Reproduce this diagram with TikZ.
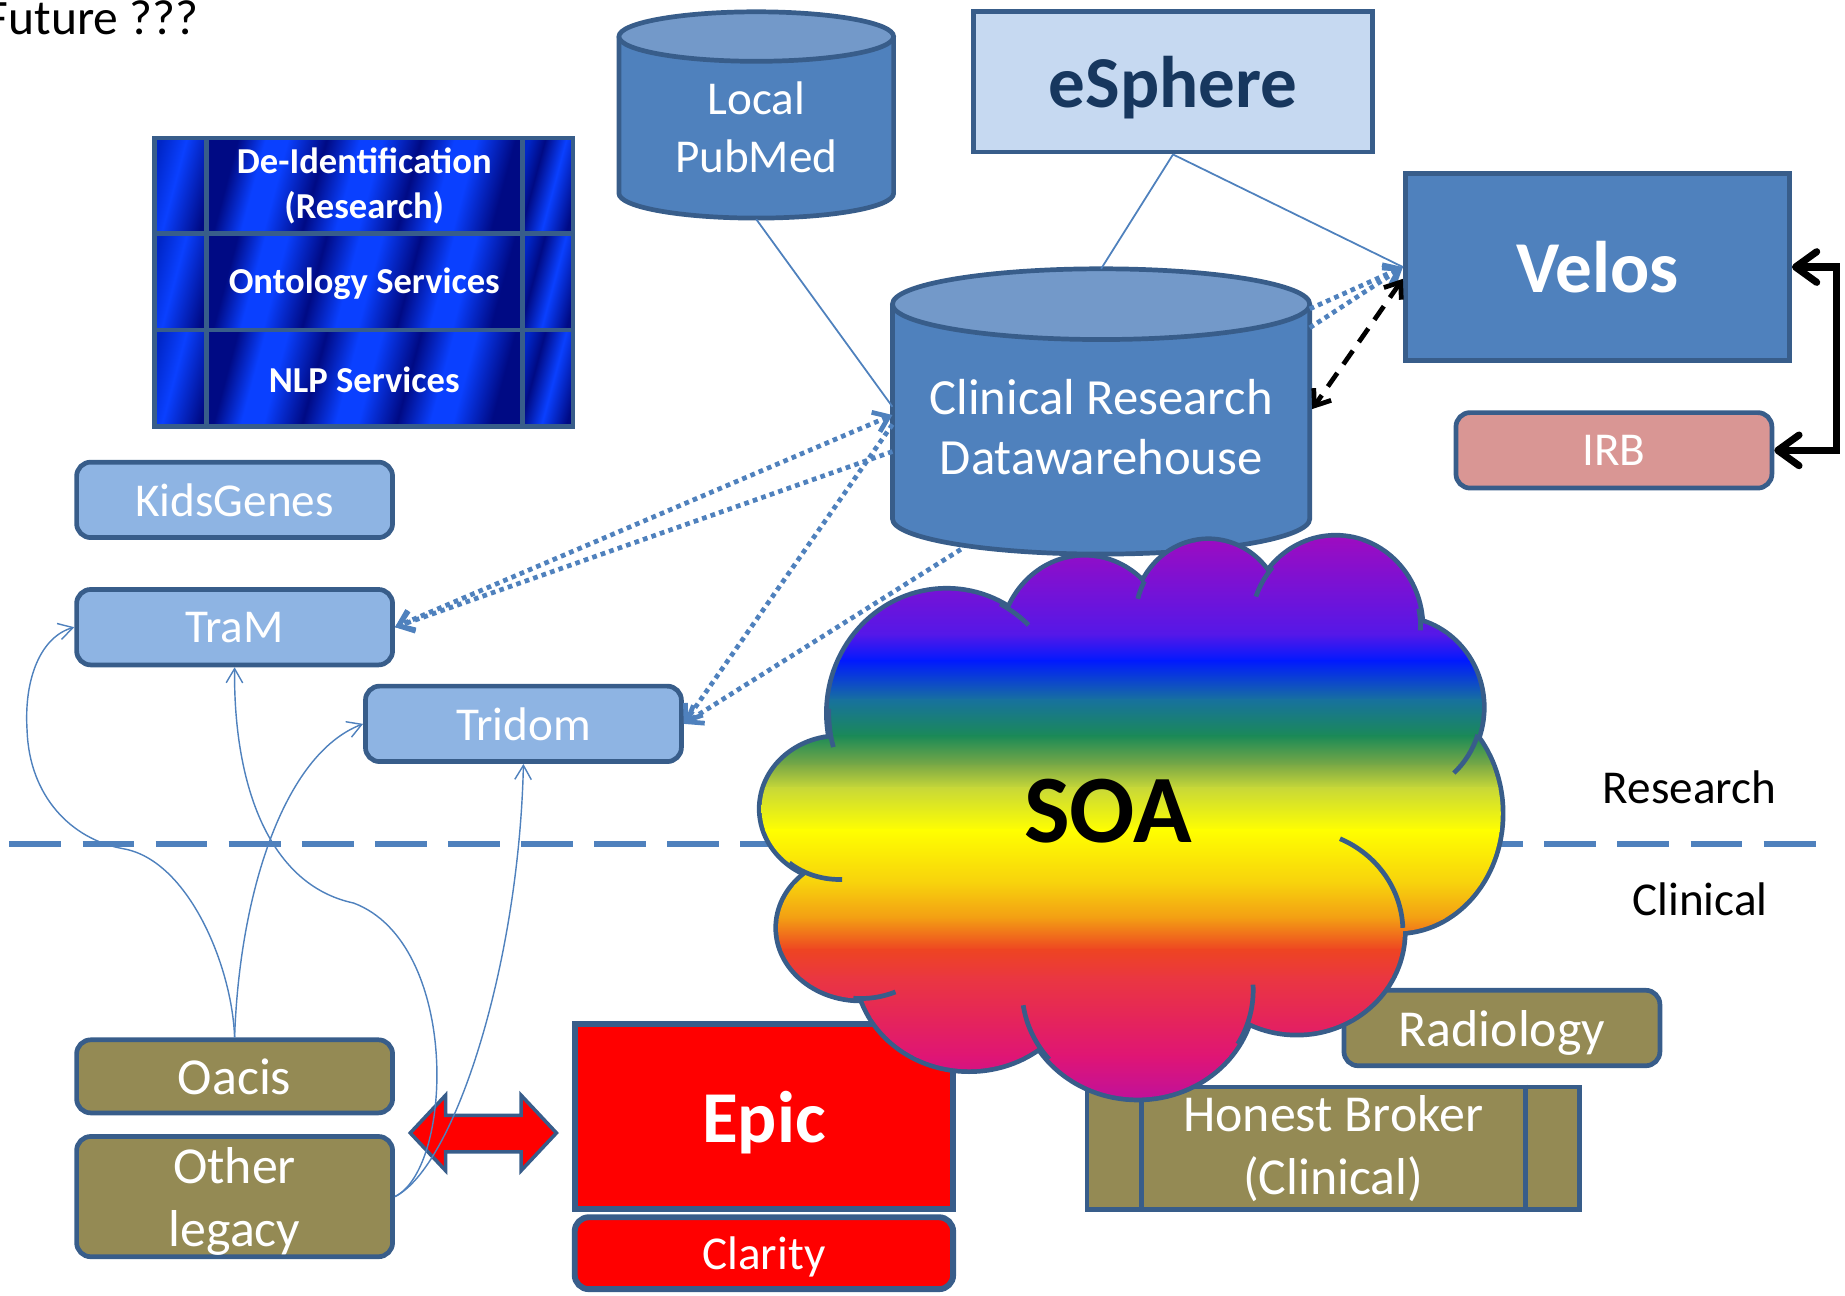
\documentclass[tikz,border=0pt]{standalone}
\usepackage{fontspec}
\setmainfont{Carlito}
\usetikzlibrary{arrows.meta}
\definecolor{acc}{HTML}{4F81BD}
\definecolor{bord}{HTML}{385D8A}
\definecolor{cyltop}{HTML}{7399C9}
\definecolor{lbox}{HTML}{8EB4E3}
\definecolor{esph}{HTML}{C6D9F1}
\definecolor{esphtxt}{HTML}{17375E}
\definecolor{irbc}{HTML}{D99694}
\definecolor{olivec}{HTML}{948A54}
\definecolor{dkb}{HTML}{000A84}
\definecolor{brb}{HTML}{0A40FF}
\definecolor{midb}{HTML}{0026C8}
\definecolor{rA}{HTML}{9B0CC2}
\definecolor{rB}{HTML}{5418E8}
\definecolor{rC}{HTML}{0019FF}
\definecolor{rD}{HTML}{17719E}
\definecolor{rE}{HTML}{1B8A57}
\definecolor{rF}{HTML}{7DAA45}
\definecolor{rG}{HTML}{C8D838}
\definecolor{rH}{HTML}{FFFF00}
\definecolor{rI}{HTML}{F7D00D}
\definecolor{rJ}{HTML}{F39C14}
\definecolor{rK}{HTML}{EE4422}
\definecolor{rL}{HTML}{EA3740}
\definecolor{rM}{HTML}{E5255A}
\definecolor{rN}{HTML}{DF1575}
\definecolor{rO}{HTML}{B00FAE}
\pgfdeclarehorizontalshading{streakmid}{100bp}{color(0bp)=(dkb); color(25bp)=(dkb); color(30bp)=(brb); color(34bp)=(brb); color(41bp)=(dkb); color(47bp)=(brb); color(51bp)=(brb); color(58bp)=(dkb); color(64bp)=(brb); color(68bp)=(brb); color(75bp)=(dkb); color(100bp)=(dkb)}
\pgfdeclarehorizontalshading{streakL}{100bp}{color(0bp)=(midb); color(25bp)=(midb); color(45bp)=(brb); color(75bp)=(dkb); color(100bp)=(dkb)}
\pgfdeclarehorizontalshading{streakR}{100bp}{color(0bp)=(midb); color(25bp)=(midb); color(38bp)=(dkb); color(55bp)=(brb); color(75bp)=(dkb); color(100bp)=(dkb)}
\begin{document}
\begin{tikzpicture}[x=0.5pt,y=-0.5pt,
  bordc/.style={draw=bord, line width=2pt},
  lbl/.style={text=white, align=center, inner sep=0pt},
  f20/.style={font=\fontsize{20pt}{24.4pt}\selectfont},
  f21/.style={font=\fontsize{21.5pt}{25.5pt}\selectfont},
  f22/.style={font=\fontsize{22pt}{26.8pt}\selectfont},
  big/.style={font=\bfseries\fontsize{31pt}{37pt}\selectfont},
  rb/.style={bordc, lbl, rounded corners=6pt, minimum width=134pt, minimum height=32pt, text depth=0pt},
  lightbox/.style={rb, fill=lbox, f20},
  olivebox/.style={rb, fill=olivec, f22},
  thinline/.style={draw=acc, line width=0.75pt},
  thinarr/.style={draw=acc, line width=0.6pt, -{Straight Barb[length=6pt,width=7pt]}},
  dotln/.style={draw=acc, line width=2pt, dash pattern=on 2pt off 1.8pt},
  dtip/.style={-{Straight Barb[length=6pt,width=9pt]}},
  dtips/.style={{Straight Barb[length=6pt,width=9pt]}-{Straight Barb[length=6pt,width=9pt]}},
  cloudln/.style={draw=bord, line width=2pt},
]
\useasboundingbox (0,0) rectangle (1565,1099.3);

% title
\node[anchor=base west, font=\fontsize{21pt}{25pt}\selectfont] (future) at (-19,29) {Future ???};

% divider
\coordinate (divL) at (8,716);
\coordinate (divR) at (1550,716);
\draw[acc, line width=2.5pt, dash pattern=on 22pt off 9pt] (divL) -- (divR);
\node[f20] (research) at (1433,668) {Research};
\node[f20] (clinical) at (1442,763) {Clinical};

% De-identification block
\foreach \xa/\xb/\sh in {131/175/streakL, 175/443/streakmid, 443/486/streakR}
  \foreach \ya/\yb in {117/198, 198/280, 280/362}
    \shade[shading=\sh, shading angle=-15] (\xa,\ya) rectangle (\xb,\yb);
\draw[bordc] (131,117) rectangle (486,362);
\draw[bordc] (175,117) -- (175,362) (443,117) -- (443,362) (131,198) -- (486,198) (131,280) -- (486,280);
\node[lbl, font=\bfseries\fontsize{15.5pt}{19pt}\selectfont] (deid) at (309,158) {De-Identification\\(Research)};
\node[lbl, font=\bfseries\fontsize{15.5pt}{19pt}\selectfont] (onto) at (309,241) {Ontology Services};
\node[lbl, font=\bfseries\fontsize{15.5pt}{19pt}\selectfont] (nlp) at (309,322) {NLP Services};

% Local PubMed cylinder
\draw[bordc, fill=acc] (525,31) -- (525,164) arc[start angle=180, end angle=0, x radius=116.5, y radius=21] -- (758,31);
\draw[bordc, fill=cyltop] (641.5,31) ellipse [x radius=116.5, y radius=21];
\node[lbl, f20] (pubmed) at (641.5,108) {Local\\PubMed};
\coordinate (pmB) at (641.5,186);

% Clinical Research Datawarehouse cylinder
\draw[bordc, fill=acc] (757,258) -- (757,440) arc[start angle=180, end angle=0, x radius=177, y radius=30] -- (1111,258);
\draw[bordc, fill=cyltop] (934,258) ellipse [x radius=177, y radius=30];
\node[lbl, f21] (crdw) at (934,362) {Clinical Research\\Datawarehouse};
\coordinate (crT) at (934,228);
\coordinate (crL0) at (757,345);
\coordinate (crL1) at (757,352);
\coordinate (crL2) at (757,383);
\coordinate (crL3) at (757,360);
\coordinate (crB) at (815,466);
\coordinate (crR1) at (1111,262);
\coordinate (crR2) at (1111,278);
\coordinate (crR3) at (1113,347);

% boxes
\node[bordc, fill=esph, text=esphtxt, big, minimum width=169pt, minimum height=59.5pt, text depth=0pt, inner sep=0pt] (esphere) at (995,69.5) {eSphere};
\node[bordc, lbl, fill=acc, big, minimum width=163pt, minimum height=79.5pt, text depth=0pt] (velos) at (1355,226.5) {Velos};
\node[rb, fill=irbc, f20] (irb) at (1369,382) {IRB};
\node[lightbox] (kids) at (199,424) {KidsGenes};
\node[lightbox] (tram) at (199,532) {TraM};
\node[lightbox] (tridom) at (444,614) {Tridom};
\node[olivebox, minimum height=31pt] (oacis) at (199,913) {Oacis};
\node[olivebox, minimum height=51pt] (other) at (199,1015) {Other\\legacy};
\node[olivebox] (radio) at (1274,872) {Radiology};
\node[bordc, lbl, fill=olivec, f22, minimum width=209pt, minimum height=52pt] (honest) at (1131,974) {Honest Broker\\(Clinical)};
\draw[bordc] ([xshift=24pt]honest.north west) -- ([xshift=24pt]honest.south west)
             ([xshift=-24pt]honest.north east) -- ([xshift=-24pt]honest.south east);
\node[draw=bord, line width=2.5pt, lbl, fill=red, big, minimum width=160.5pt, minimum height=78.5pt, text depth=0pt] (epic) at (648,947) {Epic};
\node[draw=bord, line width=2.5pt, lbl, fill=red, f20, rounded corners=6pt, minimum width=160.5pt, minimum height=30.5pt, text depth=0pt] (clarity) at (648,1063) {Clarity};

% red double arrow
\draw[draw=bord, line width=1.5pt, fill=red] (348,961) -- (378,929) -- (378,946) -- (442,946) -- (442,929) -- (472,961) -- (442,993) -- (442,977) -- (378,977) -- (378,993) -- cycle;

% SOA cloud
\foreach \cx/\cy/\rx/\ry in {712/686/66/60, 803/605/100/104, 920/548/70/75, 1025/525/62/66, 1133/532/72/76, 1185/600/72/75, 1185/690/88/100, 1100/790/90/86, 965/840/98/91, 822/820/95/87, 730/787/70/60}
  \draw[draw=bord, line width=4pt] (\cx,\cy) ellipse [x radius=\rx, y radius=\ry];
\begin{scope}
\clip (712,686) ellipse [x radius=66, y radius=60]
      (803,605) ellipse [x radius=100, y radius=104]
      (920,548) ellipse [x radius=70, y radius=75]
      (1025,525) ellipse [x radius=62, y radius=66]
      (1133,532) ellipse [x radius=72, y radius=76]
      (1185,600) ellipse [x radius=72, y radius=75]
      (1185,690) ellipse [x radius=88, y radius=100]
      (1100,790) ellipse [x radius=90, y radius=86]
      (965,840) ellipse [x radius=98, y radius=91]
      (822,820) ellipse [x radius=95, y radius=87]
      (730,787) ellipse [x radius=70, y radius=60]
      (960,690) ellipse [x radius=240, y radius=170];
\foreach \ya/\ca/\yb/\cb in {440/rA/458/rA, 458/rA/538/rB, 538/rB/560/rC, 560/rC/593/rD, 593/rD/624/rE, 624/rE/649/rF, 649/rF/668/rG, 668/rG/704/rH, 704/rH/750/rI, 750/rI/779/rJ, 779/rJ/805/rK, 805/rK/828/rL, 828/rL/863/rM, 863/rM/896/rN, 896/rN/950/rO}
  \shade[top color=\ca, bottom color=\cb] (630,\ya) rectangle (1290,\yb+1);
\end{scope}
\foreach \cx/\cy/\rx/\ry/\a/\b in {712/686/66/60/130/88, 803/605/100/104/182/164, 803/605/100/104/-63/-46, 1025/525/62/66/209/195, 1133/532/72/76/222/200, 1133/532/72/76/-12/2, 1185/600/72/75/18/48, 1100/790/90/86/-66/-2, 965/840/98/91/-3/30, 965/840/98/91/140/172, 730/787/70/60/95/65}
  \draw[cloudln] ({\cx+\rx*cos(\a)},{\cy+\ry*sin(\a)}) arc[start angle=\a, end angle=\b, x radius=\rx, y radius=\ry];
\node[font=\bfseries\fontsize{41pt}{49pt}\selectfont, text depth=0pt] (soa) at (940,688) {SOA};

% thin connectors
\draw[thinline] (pmB) -- (crL0);
\draw[thinline] (esphere.south) -- (crT);
\draw[thinline] (esphere.south) -- (velos.west);

% dotted connectors
\draw[dotln, dtips] (crL1) -- (tram.east);
\draw[dotln, dtip] (crL2) -- (tram.east);
\draw[dotln, dtip] (crL3) -- (tridom.east);
\draw[dotln, dtip] (crB) -- (tridom.east);
\draw[dotln, dtip] (crR1) -- (velos.west);
\draw[dotln, dtip] (crR2) -- (velos.west);
\draw[black, line width=2pt, dash pattern=on 7pt off 4.5pt, {Straight Barb[length=6pt,width=9pt]}-{Straight Barb[length=6pt,width=9pt]}] ([yshift=-5pt]velos.west) -- (crR3);

% Velos <-> IRB
\draw[black, line width=3pt, {Straight Barb[length=9pt,width=13pt,round]}-{Straight Barb[length=9pt,width=13pt,round]}] (velos.east) -- ++(38,0) |- (irb.east);

% legacy curves
\draw[thinarr] (oacis.north) .. controls (197,820) and (160,730) .. (105,720) .. controls (60,712) and (25,675) .. (23,620) .. controls (20,575) and (35,540) .. (tram.west);
\draw[thinarr] (oacis.north) .. controls (203,760) and (240,640) .. (tridom.west);
\draw[thinarr] (other.east) .. controls (385,990) and (390,800) .. (300,766) .. controls (225,750) and (198,660) .. (tram.south);
\draw[thinarr] (other.east) .. controls (385,990) and (440,820) .. (tridom.south);
\end{tikzpicture}
\end{document}
